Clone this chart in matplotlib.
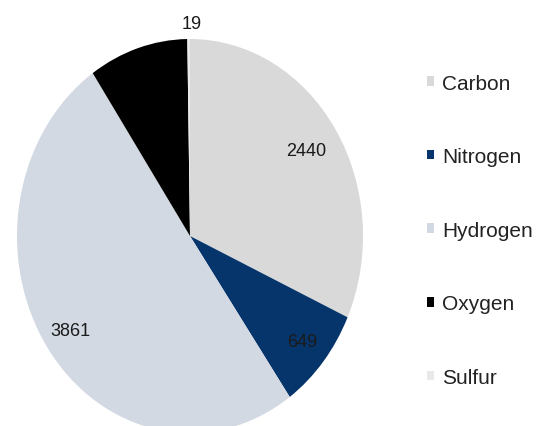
import matplotlib
matplotlib.use("Agg")
import matplotlib.pyplot as plt
import numpy as np

# Element composition
elements = ["Carbon", "Nitrogen", "Hydrogen", "Oxygen", "Sulfur"]
counts = [2440, 649, 3861, 711, 19]
colors = ["#d9d9d9", "#06356b", "#d2d9e3", "#000000", "#e9e9e9"]
label_colors = ["#1a1a1a", "#1a1a1a", "#1a1a1a", "#000000", "#1a1a1a"]

plt.rcParams["font.family"] = ["Liberation Sans", "DejaVu Sans"]

W, H = 537, 427
fig = plt.figure(figsize=(W / 100, H / 100), dpi=100)
fig.patch.set_facecolor("white")

# Elliptical pie: centre (190, 237) px from top-left, radii 173 x 197 px
cx, cy, rx, ry = 190, 237, 173, 197
ax = fig.add_axes([(cx - rx) / W, (H - cy - ry) / H, 2 * rx / W, 2 * ry / H])

wedges, _ = ax.pie(counts, colors=colors, startangle=90, counterclock=False,
                   radius=1.0, wedgeprops=dict(linewidth=0))
ax.set_aspect("auto")
ax.set_xlim(-1, 1)
ax.set_ylim(-1, 1)
ax.axis("off")

# Value labels
total = sum(counts)
start = 90.0
label_r = [0.80, 0.84, 0.84, 0.80, 1.08]
for val, r, c in zip(counts, label_r, label_colors):
    span = 360.0 * val / total
    mid = np.deg2rad(start - span / 2)
    start -= span
    ax.text(r * np.cos(mid) + (0.02 if r > 1 else 0), r * np.sin(mid),
            f"{val}", ha="center", va="center",
            fontsize=13, color=c, clip_on=False)

leg = fig.legend(wedges, elements, loc="upper left",
                 bbox_to_anchor=(427 / W, 1 - 74.5 / H), frameon=False,
                 fontsize=15, handlelength=0.34, handleheight=0.34,
                 handletextpad=0.4, labelspacing=2.62, borderpad=0,
                 borderaxespad=0)
for t in leg.get_texts():
    t.set_color("#222222")

fig.savefig("out.png", dpi=100, facecolor="white")
